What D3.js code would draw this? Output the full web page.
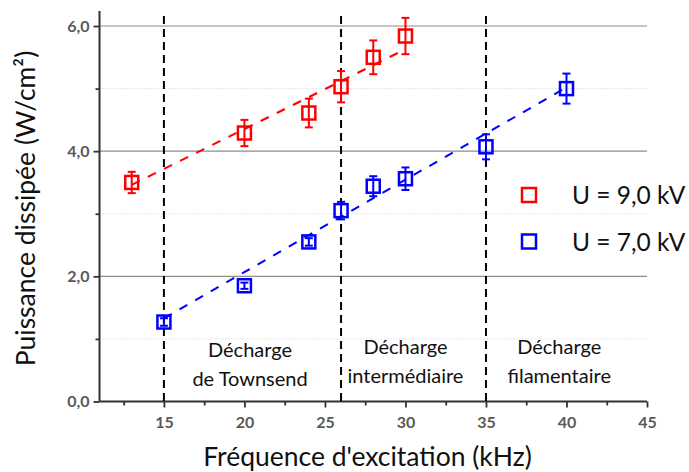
<!DOCTYPE html>
<html>
<head>
<meta charset="utf-8">
<script src="https://cdn.jsdelivr.net/npm/d3@7"></script>
<style>
  body { margin: 0; background: #fff; }
  svg { font-family: Lato, "Noto Sans", sans-serif; }
</style>
</head>
<body>
<div id="graph"></div>
<script>
const w = 689;
const h = 472;

// données
const freq9 = [13, 20, 24, 26, 28, 30];
const power9 = [3.50, 4.29, 4.61, 5.03, 5.50, 5.84];
const err9 = [0.17, 0.21, 0.23, 0.25, 0.27, 0.29];
const freq7 = [15, 20, 24, 26, 28, 30, 35, 40];
const power7 = [1.27, 1.85, 2.55, 3.05, 3.44, 3.56, 4.07, 5.00];
const err7 = [0.06, 0.05, 0.06, 0.14, 0.16, 0.18, 0.20, 0.24];
const fit9 = [[13, 3.46], [30, 5.63]];
const fit7 = [[15, 1.33], [40, 5.02]];
const regimes = [15, 26, 35];
const regimeLabels = [
  { x: 20.35, lines: ["Décharge", "de Townsend"] },
  { x: 30.0, lines: ["Décharge", "intermédiaire"] },
  { x: 39.55, lines: ["Décharge", "filamentaire"] }
];
const xTicks = [15, 20, 25, 30, 35, 40, 45];
const yTicks = [0, 2, 4, 6];
const series = [
  { name: "U = 9,0 kV", color: "#ff0000", x: freq9, y: power9, e: err9, fit: fit9 },
  { name: "U = 7,0 kV", color: "#0000ff", x: freq7, y: power7, e: err7, fit: fit7 }
];

const fmt = d3.formatLocale({ decimal: ",", thousands: " ", grouping: [3], currency: ["", ""] }).format(".1f");

const mLeft = 99.5, mRight = 647, mTop = 11, mBottom = 401.5;
const xScale = d3.scaleLinear().domain([11, 45]).range([mLeft, mRight]);
const yScale = d3.scaleLinear().domain([0, 6.24]).range([mBottom, mTop]);

const svg = d3.select("#graph").append("svg").attr("width", w).attr("height", h);

// grille
svg.append("g").selectAll("line").data([1, 3, 5]).enter().append("line")
  .attr("x1", mLeft).attr("x2", mRight)
  .attr("y1", (d) => yScale(d)).attr("y2", (d) => yScale(d))
  .attr("stroke", "#cfcfcf").attr("stroke-dasharray", "1,2");
svg.append("g").selectAll("line").data([2, 4, 6]).enter().append("line")
  .attr("x1", mLeft).attr("x2", mRight)
  .attr("y1", (d) => yScale(d)).attr("y2", (d) => yScale(d))
  .attr("stroke", "#8c8c8c").attr("stroke-width", 1.2);

// axes
const xAxis = svg.append("g").attr("transform", `translate(0, ${mBottom})`)
  .call(d3.axisBottom(xScale).tickValues(xTicks).tickSize(6).tickPadding(9).tickFormat(d3.format("d")));
const xMinor = svg.append("g").attr("transform", `translate(0, ${mBottom})`)
  .call(d3.axisBottom(xScale).tickValues([12.5, 17.5, 22.5, 27.5, 32.5, 37.5, 42.5]).tickSize(4).tickFormat(""));
const yAxis = svg.append("g").attr("transform", `translate(${mLeft}, 0)`)
  .call(d3.axisLeft(yScale).tickValues(yTicks).tickSize(6).tickPadding(4).tickFormat(fmt));
const yMinor = svg.append("g").attr("transform", `translate(${mLeft}, 0)`)
  .call(d3.axisLeft(yScale).tickValues([1, 3, 5]).tickSize(4).tickFormat(""));
[xAxis, xMinor, yAxis, yMinor].forEach((a) => {
  a.select(".domain").remove();
  a.selectAll(".tick line").attr("stroke", "#333").attr("stroke-width", 1.8);
  a.selectAll(".tick text").attr("fill", "#595959").attr("font-size", 16).attr("font-weight", "bold")
    .attr("font-family", "Lato, sans-serif");
});
svg.append("line").attr("x1", mLeft).attr("x2", mRight).attr("y1", mBottom).attr("y2", mBottom)
  .attr("stroke", "#333").attr("stroke-width", 2);
svg.append("line").attr("x1", mLeft).attr("x2", mLeft).attr("y1", mTop).attr("y2", mBottom)
  .attr("stroke", "#333").attr("stroke-width", 2);

// séparations des régimes
svg.append("g").selectAll("line").data(regimes).enter().append("line")
  .attr("x1", (d) => xScale(d)).attr("x2", (d) => xScale(d))
  .attr("y1", 16).attr("y2", mBottom)
  .attr("stroke", "#000").attr("stroke-width", 2).attr("stroke-dasharray", "8,5");

// étiquettes des régimes
const lab = svg.append("g").selectAll("text").data(regimeLabels).enter().append("text")
  .attr("text-anchor", "middle").attr("font-size", 20).attr("fill", "#111");
lab.selectAll("tspan").data((d, j) => d.lines.map((l, i) => ({ l, i, j, x: d.x }))).enter().append("tspan")
  .attr("x", (d) => xScale(d.x)).attr("y", (d) => (d.j === 0 ? 357 : 354) + d.i * 28.5)
  .text((d) => d.l);

// séries
const line = d3.line().x((d) => xScale(d[0])).y((d) => yScale(d[1]));
series.forEach((s) => {
  const g = svg.append("g");
  g.append("path").attr("d", line(s.fit)).attr("fill", "none")
    .attr("stroke", s.color).attr("stroke-width", 2).attr("stroke-dasharray", "9,9");
  const pts = s.x.map((x, i) => ({ x, y: s.y[i], e: s.e[i] }));
  const p = g.selectAll("g.pt").data(pts).enter().append("g").attr("class", "pt")
    .attr("stroke", s.color).attr("stroke-width", 2).attr("fill", "none");
  p.append("line").attr("x1", (d) => xScale(d.x)).attr("x2", (d) => xScale(d.x))
    .attr("y1", (d) => yScale(d.y + d.e)).attr("y2", (d) => yScale(d.y - d.e));
  p.append("line").attr("x1", (d) => xScale(d.x) - 4).attr("x2", (d) => xScale(d.x) + 4)
    .attr("y1", (d) => yScale(d.y + d.e)).attr("y2", (d) => yScale(d.y + d.e));
  p.append("line").attr("x1", (d) => xScale(d.x) - 4).attr("x2", (d) => xScale(d.x) + 4)
    .attr("y1", (d) => yScale(d.y - d.e)).attr("y2", (d) => yScale(d.y - d.e));
  p.append("rect").attr("x", (d) => xScale(d.x) - 6.5).attr("y", (d) => yScale(d.y) - 6.5)
    .attr("width", 13).attr("height", 13).attr("stroke-width", 2.5);
});

// légende
const leg = svg.append("g").selectAll("g").data(series).enter().append("g")
  .attr("transform", (d, i) => `translate(529, ${195 + i * 46.5})`);
leg.append("rect").attr("x", -7).attr("y", -7).attr("width", 14).attr("height", 14)
  .attr("fill", "none").attr("stroke", (d) => d.color).attr("stroke-width", 2.5);
leg.append("text").attr("x", 43).attr("y", 9).attr("font-size", 24.5).attr("fill", "#111").text((d) => d.name);

// titres d'axes
svg.append("text").attr("x", 367.5).attr("y", 466)
  .attr("text-anchor", "middle").attr("font-size", 26.5).attr("fill", "#111")
  .text("Fréquence d'excitation (kHz)");
svg.append("text").attr("transform", "translate(35, 208.5) rotate(-90)")
  .attr("text-anchor", "middle").attr("font-size", 26.5).attr("fill", "#111")
  .text("Puissance dissipée (W/cm²)");
</script>
</body>
</html>
